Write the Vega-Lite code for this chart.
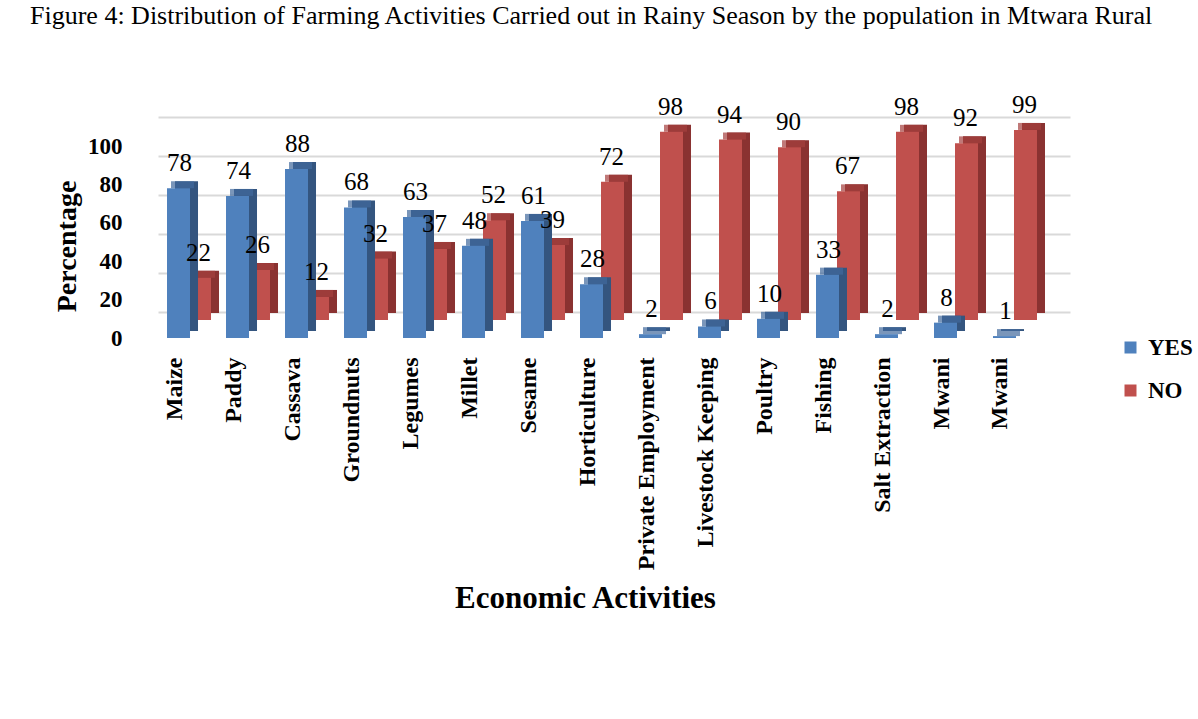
{
  "$schema": "https://vega.github.io/schema/vega-lite/v6.json",
  "autosize": {"type": "none"},
  "width": 912,
  "height": 223,
  "padding": {"left": 158, "top": 117, "right": 128, "bottom": 379},
  "background": "white",
  "title": {
    "text": "Figure 4: Distribution of Farming Activities Carried out in Rainy Season by the population in Mtwara Rural",
    "anchor": "start",
    "frame": "group",
    "orient": "top",
    "offset": 43,
    "baseline": "alphabetic",
    "dx": -128,
    "font": "Liberation Serif",
    "fontSize": 26,
    "fontWeight": "normal",
    "color": "black",
    "limit": 1190
  },
  "config": {"view": {"stroke": null}, "font": "Liberation Serif"},
  "data": {
    "values": [
      {"cat": "Maize", "series": "YES", "value": 78},
      {"cat": "Maize", "series": "NO", "value": 22},
      {"cat": "Paddy", "series": "YES", "value": 74},
      {"cat": "Paddy", "series": "NO", "value": 26},
      {"cat": "Cassava", "series": "YES", "value": 88},
      {"cat": "Cassava", "series": "NO", "value": 12},
      {"cat": "Groundnuts", "series": "YES", "value": 68},
      {"cat": "Groundnuts", "series": "NO", "value": 32},
      {"cat": "Legumes", "series": "YES", "value": 63},
      {"cat": "Legumes", "series": "NO", "value": 37},
      {"cat": "Millet", "series": "YES", "value": 48},
      {"cat": "Millet", "series": "NO", "value": 52},
      {"cat": "Sesame", "series": "YES", "value": 61},
      {"cat": "Sesame", "series": "NO", "value": 39},
      {"cat": "Horticulture", "series": "YES", "value": 28},
      {"cat": "Horticulture", "series": "NO", "value": 72},
      {"cat": "Private Employment", "series": "YES", "value": 2},
      {"cat": "Private Employment", "series": "NO", "value": 98},
      {"cat": "Livestock Keeping", "series": "YES", "value": 6},
      {"cat": "Livestock Keeping", "series": "NO", "value": 94},
      {"cat": "Poultry", "series": "YES", "value": 10},
      {"cat": "Poultry", "series": "NO", "value": 90},
      {"cat": "Fishing", "series": "YES", "value": 33},
      {"cat": "Fishing", "series": "NO", "value": 67},
      {"cat": "Salt Extraction", "series": "YES", "value": 2},
      {"cat": "Salt Extraction", "series": "NO", "value": 98},
      {"cat": "Mwani", "series": "YES", "value": 8},
      {"cat": "Mwani", "series": "NO", "value": 92},
      {"cat": "Mwani (2)", "series": "YES", "value": 1},
      {"cat": "Mwani (2)", "series": "NO", "value": 99}
    ]
  },
  "resolve": {"scale": {"y": "independent"}},
  "layer": [
    {
      "mark": {"type": "rule", "opacity": 0},
      "encoding": {
        "y": {
          "field": "value",
          "type": "quantitative",
          "scale": {"domain": [0, 100], "range": [195, 0], "nice": false},
          "axis": {
            "orient": "left",
            "values": [0, 20, 40, 60, 80, 100],
            "labels": false,
            "ticks": false,
            "domain": false,
            "title": null,
            "grid": true,
            "gridColor": "#d9d9d9",
            "gridWidth": 2
          }
        }
      }
    },
    {
      "encoding": {
        "x": {
          "field": "cat",
          "type": "nominal",
          "scale": {
            "domain": ["Maize", "Paddy", "Cassava", "Groundnuts", "Legumes", "Millet", "Sesame", "Horticulture", "Private Employment", "Livestock Keeping", "Poultry", "Fishing", "Salt Extraction", "Mwani", "Mwani (2)"],
            "paddingInner": 0.61017,
            "paddingOuter": 0.534,
            "align": 0.143
          },
          "axis": {
            "labelAngle": -90,
            "labelFont": "Liberation Serif",
            "labelFontSize": 24,
            "labelFontWeight": "bold",
            "labelColor": "black",
            "labelPadding": 17,
            "labelOffset": -4,
            "labelLimit": 400,
            "labelExpr": "replace(datum.label, ' (2)', '')",
            "ticks": false,
            "tickSize": 0,
            "domain": false,
            "title": "Economic Activities",
            "titleFont": "Liberation Serif",
            "titleFontSize": 31,
            "titleFontWeight": "bold",
            "titleColor": "black",
            "titleX": 427,
            "titleY": 267,
            "titleAlign": "center",
            "titleBaseline": "alphabetic"
          }
        },
        "y": {
          "field": "value",
          "type": "quantitative",
          "scale": {"domain": [0, 100], "range": [221, 29], "nice": false},
          "axis": {
            "orient": "left",
            "values": [0, 20, 40, 60, 80, 100],
            "grid": false,
            "ticks": false,
            "tickSize": 0,
            "domain": false,
            "labelPadding": 36,
            "labelFont": "Liberation Serif",
            "labelFontSize": 23,
            "labelFontWeight": "bold",
            "labelColor": "black",
            "title": "Percentage",
            "titleFont": "Liberation Serif",
            "titleFontSize": 28,
            "titleFontWeight": "bold",
            "titleColor": "black",
            "titleX": -91,
            "titleY": 129,
            "titleAngle": -90,
            "titleAlign": "center",
            "titleBaseline": "middle"
          }
        }
      },
      "layer": [
        {
          "transform": [{"filter": "datum.series === 'NO'"}],
          "mark": {"type": "bar", "color": "#8A3231", "xOffset": 29, "x2Offset": 29, "yOffset": -25, "y2Offset": -25},
          "encoding": {}
        },
        {
          "transform": [{"filter": "datum.series === 'NO'"}],
          "mark": {"type": "tick", "orient": "horizontal", "color": "#A5403E", "size": 23, "thickness": 7, "xOffset": 25, "yOffset": -21.5},
          "encoding": {}
        },
        {
          "transform": [{"filter": "datum.series === 'NO'"}],
          "mark": {"type": "bar", "xOffset": 21, "x2Offset": 21, "yOffset": -18, "y2Offset": -18},
          "encoding": {
            "color": {
              "field": "series",
              "type": "nominal",
              "scale": {"domain": ["YES", "NO"], "range": ["#4F81BD", "#C0504D"]},
              "legend": {
                "title": null,
                "orient": "none",
                "legendX": 961,
                "legendY": 219,
                "symbolType": "square",
                "symbolSize": 144,
                "symbolStrokeWidth": 0,
                "labelFont": "Liberation Serif",
                "labelFontSize": 23,
                "labelFontWeight": "bold",
                "labelColor": "black",
                "labelOffset": 6,
                "rowPadding": 19
              }
            }
          }
        },
        {
          "transform": [{"filter": "datum.series === 'YES'"}],
          "mark": {"type": "bar", "color": "#34557F", "xOffset": 8, "x2Offset": 8, "yOffset": -7, "y2Offset": -7},
          "encoding": {}
        },
        {
          "transform": [{"filter": "datum.series === 'YES'"}],
          "mark": {"type": "tick", "orient": "horizontal", "color": "#41699C", "size": 23, "thickness": 7, "xOffset": 4, "yOffset": -3.5},
          "encoding": {}
        },
        {
          "transform": [{"filter": "datum.series === 'YES'"}],
          "mark": {"type": "bar"},
          "encoding": {
            "color": {
              "field": "series",
              "type": "nominal",
              "scale": {"domain": ["YES", "NO"], "range": ["#4F81BD", "#C0504D"]},
              "legend": {
                "title": null,
                "orient": "none",
                "legendX": 961,
                "legendY": 219,
                "symbolType": "square",
                "symbolSize": 144,
                "symbolStrokeWidth": 0,
                "labelFont": "Liberation Serif",
                "labelFontSize": 23,
                "labelFontWeight": "bold",
                "labelColor": "black",
                "labelOffset": 6,
                "rowPadding": 19
              }
            }
          }
        },
        {
          "transform": [{"filter": "datum.series === 'NO'"}],
          "mark": {"type": "text", "font": "Liberation Serif", "fontSize": 25, "color": "black", "baseline": "alphabetic", "xOffset": 20, "yOffset": -18, "dy": -17},
          "encoding": {"text": {"field": "value", "type": "quantitative"}}
        },
        {
          "transform": [{"filter": "datum.series === 'YES'"}],
          "mark": {"type": "text", "font": "Liberation Serif", "fontSize": 25, "color": "black", "baseline": "alphabetic", "xOffset": 1, "dy": -17},
          "encoding": {"text": {"field": "value", "type": "quantitative"}}
        }
      ]
    }
  ]
}
